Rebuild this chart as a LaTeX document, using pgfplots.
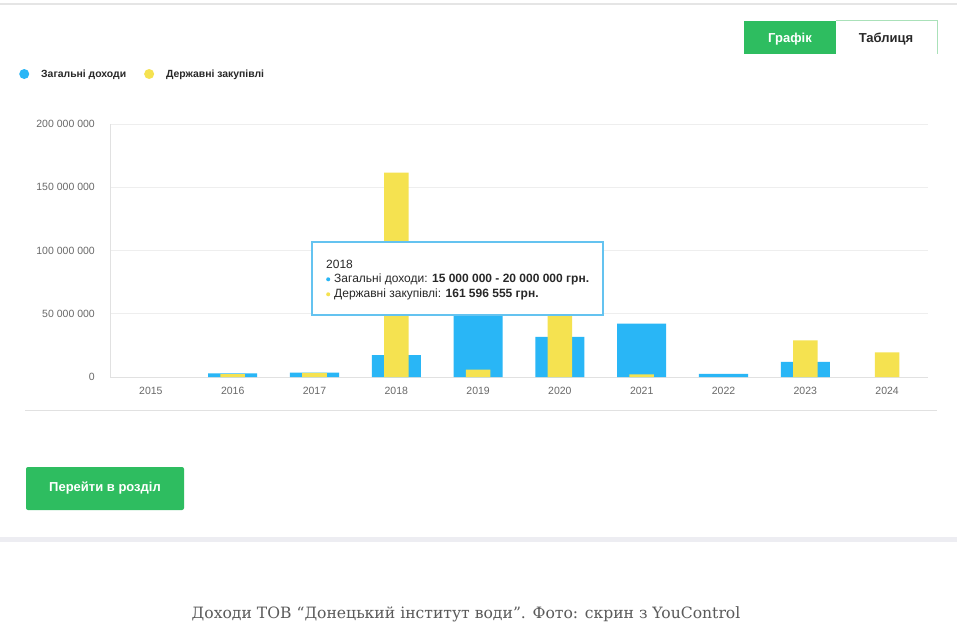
\documentclass[border=0pt]{standalone}
\usepackage{pgfplots}
\pgfplotsset{compat=1.18}
\usepackage{fontspec}
\setmainfont{Liberation Sans}
\newfontfamily\capfont{DejaVu Serif}
\definecolor{cblue}{RGB}{41,182,246}
\definecolor{cyellow}{RGB}{245,226,80}
\definecolor{cgreen}{RGB}{46,189,96}
\definecolor{lightgreen}{RGB}{170,225,185}
\definecolor{tickc}{RGB}{105,105,105}
\definecolor{gridc}{RGB}{238,238,238}
\definecolor{basec}{RGB}{225,225,225}
\definecolor{dark}{RGB}{40,40,40}
\definecolor{tipborder}{RGB}{100,195,240}
\definecolor{capc}{RGB}{90,90,90}
\definecolor{band}{RGB}{237,237,242}
\newcommand{\dotb}[1]{\tikz[baseline=-2.8pt]\fill[#1] (0,0) circle (2pt);}
\begin{document}
\begin{tikzpicture}[x=1pt,y=1pt]
\fill[white] (0,0) rectangle (957,627);
\useasboundingbox (0,0) rectangle (957,627);
\draw[gray!20, line width=1.2pt] (0,623) -- (957,623);
\fill[band] (0,85) rectangle (957,90);
% tabs
\fill[cgreen] (744,573) rectangle (836,606);
\draw[lightgreen, line width=1pt] (836,606) -- (937,606) -- (937,573);
\node[white, font=\bfseries\fontsize{13}{15}\selectfont] at (790,588) {Графік};
\node[dark, font=\bfseries\fontsize{13}{15}\selectfont] at (886,588) {Таблиця};
% separator
\draw[basec, line width=0.8pt] (25,217) -- (937,217);
% button
\fill[cgreen, rounded corners=2pt] (26,117) rectangle (184,160);
\node[white, font=\bfseries\fontsize{13}{15}\selectfont] at (105,138.5) {Перейти в розділ};
\begin{axis}[
  at={(110pt,250pt)}, anchor=south west,
  width=818pt, height=253pt, scale only axis,
  xmin=-0.5, xmax=9.5, ymin=0, ymax=200000000,
  enlargelimits=false,
  axis lines=left,
  axis line style={-, draw=basec, line width=0.8pt},
  xtick={0,...,9},
  xticklabels={2015,2016,2017,2018,2019,2020,2021,2022,2023,2024},
  ytick={0,50000000,100000000,150000000,200000000},
  yticklabels={0,50 000 000,100 000 000,150 000 000,200 000 000},
  scaled y ticks=false,
  major tick length=0pt,
  tick style={draw=none},
  ymajorgrids, grid style={gridc, line width=0.8pt},
  ticklabel style={font=\fontsize{10.5}{12}\selectfont, text=tickc},
  yticklabel style={inner sep=0pt, xshift=-15pt},
  xticklabel style={inner sep=0pt, yshift=-10pt},
  legend style={at={(axis description cs:-0.1112,1.1976)}, anchor=west,
    draw=none, fill=none, inner sep=0pt, legend columns=2,
    font=\bfseries\fontsize{10.4}{12}\selectfont, text=dark,
    /tikz/every odd column/.append style={column sep=10pt},
    /tikz/every even column/.append style={column sep=16pt}},
  legend cell align=left,
]
\addplot[ybar, bar width=0.6, bar shift=0, fill=cblue, draw=none,
  legend image code/.code={\fill[cblue] (5pt,0pt) circle (5pt);}]
  coordinates {(1,2800000) (2,3400000) (3,17200000) (4,65000000) (5,31700000) (6,42200000) (7,2400000) (8,11900000)};
\addlegendentry{Загальні доходи}
\addplot[ybar, bar width=0.3, bar shift=0, fill=cyellow, draw=none,
  legend image code/.code={\fill[cyellow] (5pt,0pt) circle (5pt);}]
  coordinates {(1,2300000) (2,3200000) (3,161596555) (4,5800000) (5,55000000) (6,2100000) (8,29000000) (9,19500000)};
\addlegendentry{Державні закупівлі}
\end{axis}
% tooltip
\draw[tipborder, fill=white, line width=1.2pt] (312,312) rectangle (603,385);
\node[anchor=west, dark, font=\fontsize{12}{14}\selectfont, inner sep=0pt] at (326,363) {2018};
\node[anchor=west, dark, font=\fontsize{12}{14}\selectfont, inner sep=0pt] at (326,348) {\dotb{cblue}\hspace{4pt}Загальні доходи: \textbf{15 000 000 - 20 000 000 грн.}};
\node[anchor=west, dark, font=\fontsize{12}{14}\selectfont, inner sep=0pt] at (326,333) {\dotb{cyellow}\hspace{4pt}Державні закупівлі: \textbf{161 596 555 грн.}};
% caption
\node[capc, font=\capfont\fontsize{15.6}{18}\selectfont] at (466,13) {Доходи ТОВ “Донецький інститут води”. Фото: скрин з YouControl};
\end{tikzpicture}
\end{document}
